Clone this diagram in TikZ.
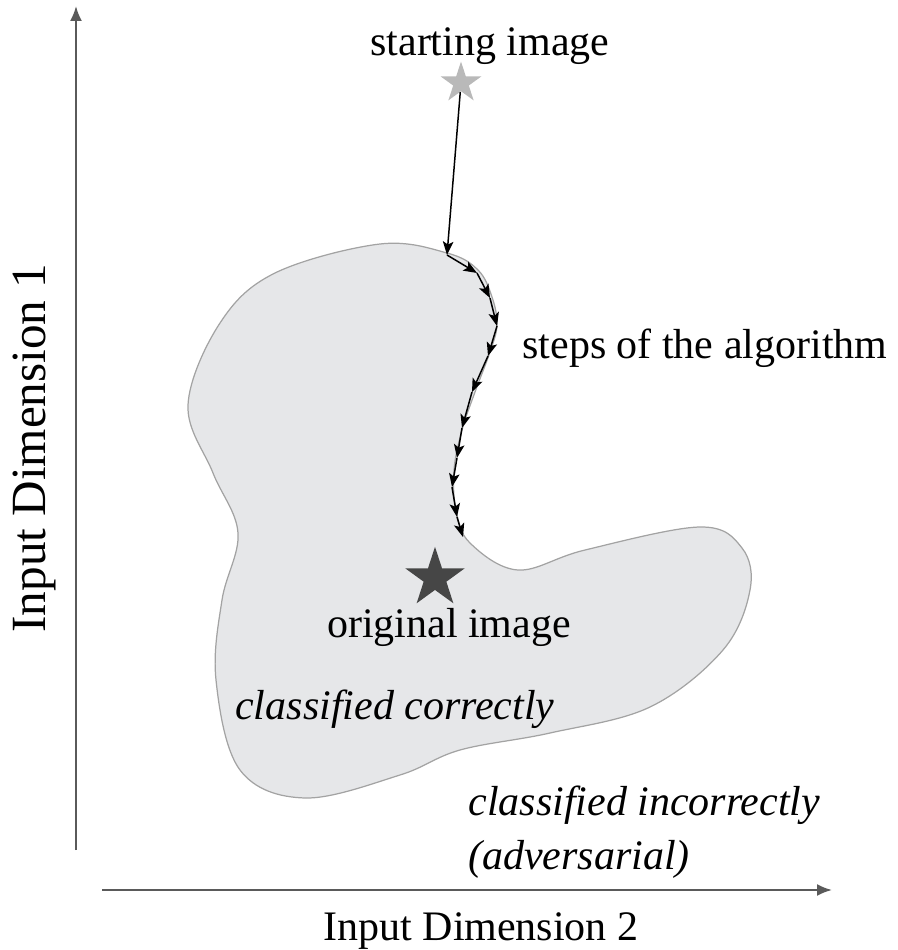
\documentclass[tikz,border=0pt]{standalone}
\usepackage{fontspec}
\setmainfont{Liberation Serif}
\usetikzlibrary{arrows.meta,shapes.geometric}
\definecolor{blobfill}{HTML}{E6E7E9}
\definecolor{blobedge}{HTML}{A3A3A3}
\definecolor{axisgray}{HTML}{5A5A5A}
\definecolor{startgray}{HTML}{B9B9B9}
\definecolor{origgray}{HTML}{464646}
\begin{document}
\begin{tikzpicture}[
    x=0.02cm, y=-0.02cm,
    lbl/.style={inner sep=0, font=\fontsize{23.9}{30.5}\selectfont},
    axis/.style={draw=axisgray, line width=1.2pt, -{Latex[length=0.3cm, width=0.24cm]}},
    stepline/.style={line width=0.85pt, -{Stealth[length=0.27cm, width=0.21cm, inset=0.06cm]}},
    marker/.style={star, star points=5, star point ratio=2.618, inner sep=0, draw=none}
]
\useasboundingbox (0,0) rectangle (898,950);

% region that is classified correctly
\draw[fill=blobfill, draw=blobedge, line width=0.7pt] plot[smooth cycle, tension=0.6] coordinates {
    (380,244) (447,253) (478,270) (492,297) (497,325) (490,352) (475,392)
    (462,430) (454,470) (456,510) (470,543) (518,570) (585,550) (700,527)
    (742,548) (750,590) (723,650) (650,707) (550,733) (460,750) (400,775)
    (305,798) (240,770) (216,680) (222,600) (238,533) (213,473) (188,405)
    (220,323) (275,273)};

% axes
\coordinate (ybot) at (76,850);
\coordinate (ytop) at (76,6);
\coordinate (xleft) at (102,890);
\coordinate (xright) at (832,890);
\draw[axis] (ybot) -- (ytop);
\draw[axis] (xleft) -- (xright);

% stars
\node[marker, fill=startgray, minimum size=0.86cm] (start) at (461,83) {};
\node[marker, fill=origgray, minimum size=1.25cm] (orig) at (435,578) {};

% steps of the attack
\coordinate (s1) at (447,255);
\coordinate (s2) at (477,273);
\coordinate (s3) at (490,298);
\coordinate (s4) at (497,326);
\coordinate (s5) at (488,356);
\coordinate (s6) at (472,392);
\coordinate (s7) at (462,428);
\coordinate (s8) at (457,458);
\coordinate (s9) at (452,487);
\coordinate (s10) at (457,517);
\coordinate (s11) at (463,537);
\draw[stepline] (start) -- (s1);
\foreach \i [count=\j from 2] in {1,...,10}
    \draw[stepline] (s\i) -- (s\j);

% labels
\node[lbl, anchor=base west] (startlbl) at (370,55) {starting image};
\node[lbl, anchor=base west] (steplbl) at (522,358) {steps of the algorithm};
\node[lbl, anchor=base] (origlbl) at (449,637) {original image};
\node[lbl, anchor=base west] (inlbl) at (235,719) {\itshape classified correctly};
\node[lbl, anchor=west, align=left] (outlbl) at (468,832) {\itshape classified incorrectly\\\itshape (adversarial)};
\node[lbl, anchor=base] (xlbl) at (481,940) {Input Dimension 2};
\node[lbl, anchor=base, rotate=90, font=\fontsize{28}{34}\selectfont] (ylbl) at (45,448) {Input Dimension 1};
\end{tikzpicture}
\end{document}
